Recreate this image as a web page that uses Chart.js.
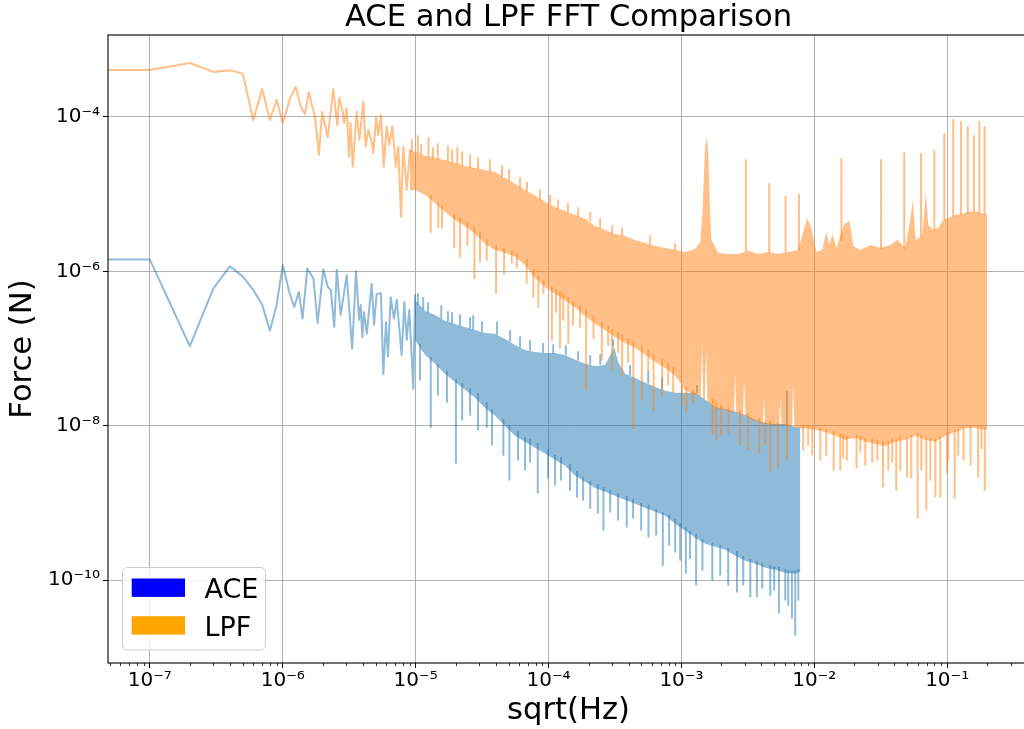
<!DOCTYPE html>
<html>
<head>
<meta charset="utf-8">
<title>ACE and LPF FFT Comparison</title>
<script src="https://cdn.jsdelivr.net/npm/chart.js"></script>
<style>
  html, body { margin: 0; padding: 0; overflow: hidden; background: #ffffff; }
  #wrap { position: relative; width: 1032px; height: 729px; }
  canvas { display: block; }
</style>
</head>
<body>
<div id="wrap"><canvas id="fft" width="1032" height="729"></canvas></div>
<script>
// ---------------------------------------------------------------------------
// Series and axes
// ---------------------------------------------------------------------------
const seriesNames = ['ACE', 'LPF'];

// decade exponents that carry a label on each axis
const xTickExponents = [-7, -6, -5, -4, -3, -2, -1];
const yTickExponents = [-10, -8, -6, -4];
// log minor ticks between decades on the frequency axis
const xMinorMultipliers = [2, 3, 4, 5, 6, 7, 8, 9];

// axis limits (frequency in sqrt(Hz), force in N)
const xRange = [4.84e-8, 0.413];
const yRange = [8.41e-12, 1.153e-3];

// ---------------------------------------------------------------------------
// ACE spectrum  [frequency, force]
// low-frequency bins, one vertex per bin (the 0 Hz bin has no place on a log
// axis, so its level is carried in from below the axis minimum)
// ---------------------------------------------------------------------------
const aceLow = [
  [1e-9, 1.42e-6], [1e-7, 1.42e-6], [2e-7, 1.07e-7], [3e-7, 5.97e-7], [4e-7, 1.16e-6],
  [5e-7, 8.6e-7], [6e-7, 5.7e-7], [7e-7, 3.7e-7], [8e-7, 1.7e-7], [9e-7, 3.7e-7],
  [1e-6, 1.21e-6], [1.12e-6, 5.4e-7], [1.22e-6, 3.45e-7], [1.32e-6, 5.4e-7], [1.41e-6, 2.44e-7],
  [1.53e-6, 1.09e-6], [1.70e-6, 8.1e-7], [1.83e-6, 2.14e-7], [2.02e-6, 1.06e-6], [2.18e-6, 6.3e-7],
  [2.30e-6, 5.7e-7], [2.44e-6, 1.9e-7], [2.55e-6, 1.05e-6], [2.73e-6, 2.72e-7], [3.03e-6, 8.98e-7],
  [3.33e-6, 1.0e-7], [3.56e-6, 1.0e-6], [3.75e-6, 2.35e-7], [3.86e-6, 3.67e-7], [3.97e-6, 1.41e-7],
  [4.08e-6, 2.97e-7], [4.29e-6, 1.56e-7], [4.67e-6, 6.9e-7], [4.86e-6, 2.02e-7], [5.09e-6, 5.1e-7],
  [5.48e-6, 5.2e-7], [5.71e-6, 4.64e-8], [5.98e-6, 2.2e-7], [6.19e-6, 7.9e-8], [6.49e-6, 4.6e-7],
  [6.87e-6, 2.44e-7], [7.21e-6, 4.26e-7], [7.85e-6, 8.26e-8], [8.22e-6, 4.0e-7], [8.57e-6, 1.29e-7],
  [8.96e-6, 3.16e-7], [9.61e-6, 3.0e-8], [9.90e-6, 4.94e-7]
];
// dense part: upper and lower extent of the bins
const aceBandTop = [
  [9.89e-6, 4.26e-7], [1.18e-5, 3.07e-7], [1.40e-5, 2.72e-7], [1.66e-5, 2.28e-7], [1.98e-5, 2.08e-7],
  [2.35e-5, 1.90e-7], [2.80e-5, 1.74e-7], [3.33e-5, 1.59e-7], [3.96e-5, 1.55e-7], [4.71e-5, 1.33e-7],
  [5.60e-5, 1.11e-7], [6.66e-5, 9.59e-8], [7.92e-5, 9.03e-8], [9.42e-5, 8.77e-8], [1.12e-4, 8.77e-8],
  [1.33e-4, 8.26e-8], [1.59e-4, 7.12e-8], [1.89e-4, 6.32e-8], [2.24e-4, 5.95e-8], [2.67e-4, 6.13e-8],
  [2.91e-4, 8.26e-8], [3.12e-4, 1.05e-7], [3.34e-4, 6.71e-8], [3.77e-4, 4.69e-8], [4.49e-4, 4.16e-8],
  [5.34e-4, 3.59e-8], [6.35e-4, 3.18e-8], [7.55e-4, 2.83e-8], [8.98e-4, 2.66e-8], [1.07e-3, 2.66e-8],
  [1.27e-3, 2.66e-8], [1.51e-3, 2.16e-8], [1.80e-3, 1.75e-8], [2.14e-3, 1.65e-8], [2.54e-3, 1.51e-8],
  [3.02e-3, 1.38e-8], [3.59e-3, 1.19e-8], [4.27e-3, 1.08e-8], [5.08e-3, 1.05e-8], [6.05e-3, 1.05e-8],
  [7.19e-3, 9.6e-9], [7.85e-3, 9.3e-9]
];
const aceBandBottom = [
  [9.89e-6, 1.29e-7], [1.18e-5, 8.26e-8], [1.40e-5, 6.32e-8], [1.66e-5, 4.69e-8], [1.98e-5, 3.69e-8],
  [2.35e-5, 2.91e-8], [2.80e-5, 2.30e-8], [3.33e-5, 1.70e-8], [3.96e-5, 1.34e-8], [4.71e-5, 9.9e-9],
  [5.60e-5, 7.38e-9], [6.66e-5, 6.17e-9], [7.92e-5, 5.16e-9], [9.42e-5, 4.32e-9], [1.12e-4, 3.61e-9],
  [1.33e-4, 3.02e-9], [1.59e-4, 2.24e-9], [1.89e-4, 1.87e-9], [2.24e-4, 1.56e-9], [2.67e-4, 1.39e-9],
  [3.17e-4, 1.23e-9], [3.77e-4, 1.09e-9], [4.49e-4, 9.7e-10], [5.34e-4, 8.6e-10], [6.35e-4, 7.64e-10],
  [7.55e-4, 6.78e-10], [8.98e-4, 5.35e-10], [1.07e-3, 4.34e-10], [1.27e-3, 3.52e-10], [1.51e-3, 2.95e-10],
  [1.80e-3, 2.69e-10], [2.14e-3, 2.46e-10], [2.54e-3, 2.06e-10], [3.02e-3, 1.78e-10], [3.59e-3, 1.62e-10],
  [4.27e-3, 1.44e-10], [5.08e-3, 1.36e-10], [6.05e-3, 1.24e-10], [7.19e-3, 1.21e-10], [7.85e-3, 1.28e-10]
];
// isolated bins that stand out of the dense part  [frequency, from, to]
const aceSpikes = [
  [1.04e-5, 3.78e-7, 5.09e-7], [1.14e-5, 3.26e-7, 4.52e-7], [1.24e-5, 2.98e-7, 3.89e-7],
  [1.56e-5, 2.49e-7, 3.56e-7], [1.75e-5, 2.28e-7, 2.98e-7], [1.88e-5, 2.14e-7, 2.89e-7],
  [2.16e-5, 2.02e-7, 2.72e-7], [2.57e-5, 1.85e-7, 2.49e-7], [2.71e-5, 1.79e-7, 2.64e-7],
  [3.16e-5, 1.69e-7, 2.21e-7], [4.10e-5, 1.55e-7, 2.21e-7], [5.14e-5, 1.25e-7, 1.69e-7],
  [6.11e-5, 1.05e-7, 1.41e-7], [7.26e-5, 9.59e-8, 1.25e-7], [9.1e-5, 9.03e-8, 1.15e-7],
  [1.085e-4, 8.77e-8, 1.11e-7], [1.35e-4, 8.5e-8, 1.08e-7], [1.67e-4, 7.12e-8, 9.03e-8],
  [2.06e-4, 6.32e-8, 8.0e-8], [2.45e-4, 6.32e-8, 8.26e-8], [3.06e-4, 1.08e-7, 1.29e-7],
  [4.11e-4, 4.55e-8, 5.95e-8], [5.63e-4, 3.59e-8, 4.98e-8], [7.16e-4, 3.0e-8, 4.16e-8],
  [1.31e-3, 2.74e-8, 3.28e-8], [6.23e-3, 1.05e-8, 2.74e-8],
  [1.08e-5, 1.11e-7, 3.92e-8], [1.30e-5, 7.56e-8, 9.6e-9], [1.47e-5, 6.13e-8, 2.51e-8],
  [1.72e-5, 4.98e-8, 2.03e-8], [2.01e-5, 3.92e-8, 3.3e-9], [2.24e-5, 3.48e-8, 1.19e-8],
  [2.57e-5, 2.91e-8, 1.38e-8], [2.95e-5, 2.59e-8, 8.82e-9], [3.43e-5, 1.97e-8, 9.6e-9],
  [3.76e-5, 1.60e-8, 5.64e-9], [4.57e-5, 1.19e-8, 4.19e-9], [5.08e-5, 9.9e-9, 1.99e-9],
  [5.9e-5, 8.3e-9, 3.61e-9], [6.66e-5, 6.95e-9, 2.68e-9], [7.26e-5, 6.55e-9, 3.4e-9],
  [8.3e-5, 5.81e-9, 1.35e-9], [9.92e-5, 4.86e-9, 2.12e-9], [1.12e-4, 4.07e-9, 1.71e-9],
  [1.24e-4, 3.83e-9, 1.99e-9], [1.45e-4, 3.11e-9, 1.47e-9], [1.64e-4, 2.52e-9, 1.20e-9],
  [1.82e-4, 2.12e-9, 1.09e-9], [2.06e-4, 1.87e-9, 8.6e-10], [2.35e-4, 1.71e-9, 7.42e-10],
  [2.59e-4, 1.56e-9, 4.47e-10], [2.91e-4, 1.43e-9, 7.64e-10], [3.34e-4, 1.31e-9, 6.02e-10],
  [3.88e-4, 1.20e-9, 4.89e-10], [4.33e-4, 1.09e-9, 6.38e-10], [4.98e-4, 9.7e-10, 4.47e-10],
  [5.65e-4, 9.14e-10, 3.63e-10], [6.46e-4, 8.11e-10, 3.85e-10], [7.25e-4, 7.42e-10, 1.57e-10],
  [8.09e-4, 6.78e-10, 2.86e-10], [8.98e-4, 6.02e-10, 2.32e-10], [9.79e-4, 5.35e-10, 1.83e-10],
  [1.08e-3, 4.75e-10, 1.24e-10], [1.16e-3, 4.22e-10, 1.91e-10], [1.29e-3, 3.85e-10, 8.67e-11],
  [1.44e-3, 3.32e-10, 1.36e-10], [1.71e-3, 2.95e-10, 1.01e-10], [1.96e-3, 2.78e-10, 1.17e-10],
  [2.25e-3, 2.54e-10, 8.67e-11], [2.62e-3, 2.32e-10, 7.04e-11], [2.92e-3, 2.0e-10, 8.67e-11],
  [3.30e-3, 1.83e-10, 6.06e-11], [3.70e-3, 1.72e-10, 6.06e-11], [4.06e-3, 1.62e-10, 7.96e-11],
  [4.66e-3, 1.52e-10, 6.43e-11], [4.99e-3, 1.48e-10, 7.47e-11], [5.42e-3, 1.44e-10, 3.76e-11],
  [6.05e-3, 1.36e-10, 5.54e-11], [6.37e-3, 1.32e-10, 4.77e-11], [6.79e-3, 1.32e-10, 3.24e-11],
  [7.19e-3, 1.32e-10, 1.95e-11], [7.58e-3, 1.36e-10, 5.54e-11]
];

// ---------------------------------------------------------------------------
// LPF spectrum  [frequency, force]
// ---------------------------------------------------------------------------
const lpfLow = [
  [1e-9, 4.06e-4], [1e-7, 4.06e-4], [2e-7, 5.0e-4], [3e-7, 3.83e-4], [4e-7, 4.03e-4],
  [5e-7, 3.64e-4], [6e-7, 9.1e-5], [7e-7, 2.31e-4], [8e-7, 9.1e-5], [9e-7, 1.67e-4],
  [1e-6, 8.3e-5], [1.13e-6, 1.69e-4], [1.25e-6, 2.47e-4], [1.37e-6, 1.34e-4], [1.47e-6, 1.09e-4],
  [1.57e-6, 2.09e-4], [1.75e-6, 9.9e-5], [1.87e-6, 3.22e-5], [1.98e-6, 1.17e-4], [2.18e-6, 5.46e-5],
  [2.40e-6, 2.28e-4], [2.57e-6, 7.87e-5], [2.66e-6, 1.75e-4], [2.81e-6, 1.23e-4], [2.90e-6, 8.3e-5],
  [3.03e-6, 1.30e-4], [3.15e-6, 3.07e-5], [3.24e-6, 8.3e-5], [3.36e-6, 2.27e-5], [3.60e-6, 1.17e-4],
  [3.77e-6, 5.04e-5], [4.04e-6, 1.58e-4], [4.21e-6, 4.13e-5], [4.41e-6, 6.79e-5], [4.67e-6, 4.79e-5],
  [4.80e-6, 3.38e-5], [5.04e-6, 9.9e-5], [5.24e-6, 5.85e-5], [5.48e-6, 1.06e-4], [5.75e-6, 2.27e-5],
  [6.05e-6, 7.5e-5], [6.34e-6, 4.34e-5], [6.67e-6, 7.5e-5], [7.11e-6, 2.27e-5], [7.41e-6, 4.13e-5],
  [7.76e-6, 5.1e-6], [8.07e-6, 4.13e-5], [8.57e-6, 1.13e-5], [9.07e-6, 3.74e-5]
];
const lpfBandTop = [
  [9.07e-6, 3.74e-5], [9.89e-6, 3.52e-5], [1.18e-5, 3.12e-5], [1.40e-5, 2.94e-5], [1.66e-5, 2.77e-5],
  [1.98e-5, 2.53e-5], [2.35e-5, 2.32e-5], [2.80e-5, 2.18e-5], [3.33e-5, 2.06e-5], [3.96e-5, 1.94e-5],
  [4.71e-5, 1.62e-5], [5.60e-5, 1.36e-5], [6.66e-5, 1.13e-5], [7.92e-5, 9.5e-6], [9.42e-5, 7.9e-6],
  [1.12e-4, 6.8e-6], [1.33e-4, 6.05e-6], [1.59e-4, 5.38e-6], [1.89e-4, 4.77e-6], [2.24e-4, 3.87e-6],
  [2.67e-4, 3.44e-6], [3.17e-4, 3.05e-6], [3.77e-4, 2.87e-6], [4.49e-4, 2.55e-6], [5.34e-4, 2.33e-6],
  [6.35e-4, 2.13e-6], [7.55e-4, 2.00e-6], [8.98e-4, 1.89e-6], [1.07e-3, 1.78e-6], [1.27e-3, 1.95e-6],
  [1.39e-3, 2.41e-6], [1.44e-3, 5.72e-6], [1.48e-3, 1.88e-5], [1.51e-3, 4.08e-5], [1.55e-3, 5.35e-5],
  [1.59e-3, 3.74e-5], [1.63e-3, 8.41e-6], [1.68e-3, 2.55e-6], [1.90e-3, 1.73e-6], [2.25e-3, 1.68e-6],
  [2.67e-3, 1.68e-6], [3.18e-3, 1.84e-6], [3.78e-3, 1.68e-6], [4.50e-3, 1.78e-6], [5.36e-3, 1.68e-6],
  [6.37e-3, 1.78e-6], [7.58e-3, 1.89e-6], [8.26e-3, 3.23e-6], [8.84e-3, 4.91e-6], [9.48e-3, 3.66e-6],
  [1.04e-2, 1.78e-6], [1.15e-2, 1.89e-6], [1.23e-2, 3.24e-6], [1.30e-2, 2.20e-6], [1.37e-2, 3.05e-6],
  [1.47e-2, 2.0e-6], [1.68e-2, 4.11e-6], [1.84e-2, 4.5e-6], [1.97e-2, 2.13e-6], [2.22e-2, 1.89e-6],
  [2.64e-2, 2.20e-6], [3.14e-2, 2.00e-6], [3.73e-2, 2.20e-6], [4.21e-2, 2.55e-6], [4.84e-2, 2.00e-6],
  [5.28e-2, 4.63e-6], [5.51e-2, 8.41e-6], [5.80e-2, 2.55e-6], [6.50e-2, 2.96e-6], [6.91e-2, 1.06e-5],
  [7.22e-2, 3.99e-6], [7.87e-2, 3.44e-6], [8.59e-2, 3.66e-6], [9.36e-2, 4.63e-6], [1.02e-1, 4.91e-6],
  [1.15e-1, 5.38e-6], [1.30e-1, 5.55e-6], [1.50e-1, 5.90e-6], [1.72e-1, 5.90e-6], [2.0e-1, 5.38e-6]
];
const lpfBandBottom = [
  [9.07e-6, 1.13e-5], [9.89e-6, 1.13e-5], [1.18e-5, 9.77e-6], [1.40e-5, 7.7e-6], [1.66e-5, 5.9e-6],
  [1.98e-5, 4.63e-6], [2.35e-5, 3.87e-6], [2.80e-5, 3.05e-6], [3.33e-5, 2.26e-6], [3.96e-5, 1.89e-6],
  [4.71e-5, 1.73e-6], [5.60e-5, 1.54e-6], [6.66e-5, 1.21e-6], [7.92e-5, 8.2e-7], [9.42e-5, 6.28e-7],
  [1.12e-4, 5.09e-7], [1.33e-4, 4.26e-7], [1.59e-4, 3.38e-7], [1.89e-4, 2.64e-7], [2.24e-4, 2.08e-7],
  [2.67e-4, 1.74e-7], [3.17e-4, 1.41e-7], [3.77e-4, 1.18e-7], [4.49e-4, 1.02e-7], [5.34e-4, 8.26e-8],
  [6.35e-4, 6.71e-8], [7.55e-4, 5.6e-8], [8.98e-4, 4.42e-8], [1.07e-3, 2.91e-8], [1.20e-3, 2.59e-8],
  [1.40e-3, 2.37e-8], [1.43e-3, 1.29e-7], [1.46e-3, 2.23e-8], [1.50e-3, 2.16e-8], [1.54e-3, 1.11e-7],
  [1.57e-3, 2.03e-8], [1.80e-3, 1.70e-8], [2.14e-3, 1.60e-8], [2.49e-3, 1.46e-8], [2.54e-3, 4.98e-8],
  [2.59e-3, 1.46e-8], [2.91e-3, 1.34e-8], [2.97e-3, 4.16e-8], [3.03e-3, 1.34e-8], [3.59e-3, 1.15e-8],
  [4.11e-3, 1.05e-8], [4.20e-3, 2.30e-8], [4.28e-3, 1.05e-8], [5.08e-3, 1.02e-8], [5.43e-3, 1.02e-8],
  [5.54e-3, 2.16e-8], [5.66e-3, 1.02e-8], [6.59e-3, 9.9e-9], [6.80e-3, 9.6e-9], [6.94e-3, 3.92e-8],
  [7.09e-3, 9.6e-9], [7.99e-3, 9.1e-9], [8.55e-3, 9.3e-9], [1.02e-2, 8.82e-9], [1.21e-2, 8.3e-9],
  [1.44e-2, 7.38e-9], [1.71e-2, 6.55e-9], [2.04e-2, 6.95e-9], [2.42e-2, 6.17e-9], [2.88e-2, 5.81e-9],
  [3.43e-2, 5.47e-9], [4.07e-2, 6.17e-9], [4.84e-2, 6.55e-9], [5.76e-2, 7.38e-9], [6.85e-2, 6.55e-9],
  [8.15e-2, 6.17e-9], [9.69e-2, 7.38e-9], [1.15e-1, 8.3e-9], [1.37e-1, 9.33e-9], [1.63e-1, 9.33e-9],
  [2.0e-1, 8.82e-9]
];
const lpfSpikes = [
  // lines rising above the dense part
  [9.38e-6, 3.63e-5, 5.04e-5], [1.04e-5, 3.42e-5, 5.67e-5], [1.10e-5, 3.32e-5, 4.34e-5],
  [1.25e-5, 3.03e-5, 5.35e-5], [1.35e-5, 2.94e-5, 3.97e-5], [1.47e-5, 2.86e-5, 4.47e-5],
  [1.75e-5, 2.70e-5, 4.13e-5], [1.88e-5, 2.61e-5, 3.74e-5], [2.06e-5, 2.46e-5, 3.97e-5],
  [2.24e-5, 2.39e-5, 3.52e-5], [2.57e-5, 2.25e-5, 3.22e-5], [2.95e-5, 2.18e-5, 2.94e-5],
  [3.63e-5, 2.0e-5, 2.77e-5], [4.47e-5, 1.72e-5, 2.32e-5], [5.05e-5, 1.49e-5, 2.06e-5],
  [6.11e-5, 1.24e-5, 1.62e-5], [6.89e-5, 1.10e-5, 1.40e-5], [8.64e-5, 8.7e-6, 1.13e-5],
  [1.03e-4, 7.45e-6, 9.5e-6], [1.18e-4, 6.6e-6, 8.41e-6], [1.40e-4, 5.9e-6, 7.5e-6],
  [1.67e-4, 5.2e-6, 6.6e-6], [2.06e-4, 4.5e-6, 5.72e-6], [2.45e-4, 3.66e-6, 4.77e-6],
  [3.01e-4, 3.15e-6, 3.87e-6], [3.58e-4, 2.96e-6, 3.55e-6], [5.82e-4, 2.26e-6, 2.87e-6],
  [8.98e-4, 1.89e-6, 2.26e-6],
  [3.06e-3, 1.84e-6, 2.77e-5], [4.58e-3, 1.78e-6, 1.36e-5], [6.08e-3, 1.78e-6, 9.4e-6],
  [7.67e-3, 1.89e-6, 1.0e-5], [1.60e-2, 2.55e-6, 2.86e-5], [3.18e-2, 2.0e-6, 2.77e-5],
  [4.76e-2, 2.0e-6, 3.43e-5], [6.36e-2, 2.87e-6, 3.32e-5], [8.01e-2, 3.44e-6, 3.63e-5],
  [9.52e-2, 4.63e-6, 6.0e-5], [1.11e-1, 5.2e-6, 9.14e-5], [1.27e-1, 5.55e-6, 8.6e-5],
  [1.43e-1, 5.7e-6, 7.42e-5], [1.59e-1, 5.9e-6, 5.67e-5], [1.75e-1, 5.9e-6, 8.6e-5],
  [1.91e-1, 5.5e-6, 7.42e-5],
  // lines dropping below it
  [1.30e-5, 9.48e-6, 3.24e-6], [1.48e-5, 7.46e-6, 3.76e-6], [1.58e-5, 7.03e-6, 3.65e-6],
  [1.95e-5, 5.38e-6, 2.07e-6], [2.16e-5, 4.91e-6, 1.54e-6], [2.45e-5, 4.36e-6, 2.20e-6],
  [2.77e-5, 3.65e-6, 8.21e-7], [3.05e-5, 3.15e-6, 1.33e-6], [3.43e-5, 2.55e-6, 1.41e-6],
  [4.03e-5, 2.14e-6, 5.25e-7], [4.63e-5, 1.95e-6, 9.2e-7], [5.29e-5, 1.78e-6, 1.29e-6],
  [5.77e-5, 1.68e-6, 1.11e-6], [6.86e-5, 1.41e-6, 7.08e-7], [7.69e-5, 1.04e-6, 4.65e-7],
  [8.39e-5, 8.72e-7, 3.46e-7], [9.15e-5, 7.51e-7, 5.25e-7], [1.06e-4, 6.1e-7, 1.29e-7],
  [1.14e-4, 5.74e-7, 2.98e-7], [1.22e-4, 5.41e-7, 1.02e-7], [1.29e-4, 5.09e-7, 2.35e-7],
  [1.41e-4, 4.52e-7, 1.18e-7], [1.53e-4, 4.01e-7, 2.02e-7], [1.73e-4, 3.56e-7, 1.90e-7],
  [1.92e-4, 3.16e-7, 2.91e-8], [2.18e-4, 2.64e-7, 1.37e-7], [2.52e-4, 2.14e-7, 7.12e-8],
  [2.81e-4, 1.96e-7, 1.11e-7], [3.01e-4, 1.74e-7, 5.28e-8], [3.34e-4, 1.59e-7, 9.03e-8],
  [3.58e-4, 1.46e-7, 4.55e-8], [3.97e-4, 1.33e-7, 6.71e-8], [4.35e-4, 1.22e-7, 9.33e-9],
  [5.04e-4, 1.05e-7, 2.16e-8], [5.63e-4, 9.59e-8, 4.98e-8], [6.17e-4, 8.26e-8, 1.60e-8],
  [7.16e-4, 7.12e-8, 2.51e-8], [7.95e-4, 6.32e-8, 3.38e-8], [8.67e-4, 5.6e-8, 2.74e-8],
  [1.01e-3, 3.28e-8, 1.86e-8], [1.09e-3, 3.09e-8, 1.51e-8], [1.22e-3, 2.83e-8, 2.03e-8],
  [1.72e-3, 2.16e-8, 8.1e-9], [1.83e-3, 1.92e-8, 6.55e-9], [1.99e-3, 1.81e-8, 7.6e-9],
  [2.26e-3, 1.70e-8, 8.1e-9], [2.77e-3, 1.51e-8, 5.64e-9], [3.18e-3, 1.42e-8, 4.86e-9],
  [3.85e-3, 1.19e-8, 4.45e-9], [4.27e-3, 1.12e-8, 5.64e-9], [4.66e-3, 1.12e-8, 2.6e-9],
  [5.32e-3, 1.08e-8, 2.85e-9], [6.23e-3, 1.05e-8, 3.72e-9], [8.26e-3, 9.9e-9, 4.86e-9],
  [9.0e-3, 9.9e-9, 5.64e-9], [9.66e-3, 9.6e-9, 4.19e-9], [1.11e-2, 9.1e-9, 3.61e-9],
  [1.23e-2, 8.82e-9, 4.19e-9], [1.40e-2, 8.3e-9, 2.68e-9], [1.57e-2, 7.6e-9, 2.68e-9],
  [1.65e-2, 7.38e-9, 3.83e-9], [1.76e-2, 7.16e-9, 3.61e-9], [2.08e-2, 7.38e-9, 2.85e-9],
  [2.22e-2, 7.16e-9, 4.58e-9], [2.42e-2, 6.75e-9, 3.11e-9], [2.73e-2, 6.55e-9, 3.4e-9],
  [2.98e-2, 6.36e-9, 3.61e-9], [3.29e-2, 6.17e-9, 1.63e-9], [3.61e-2, 6.17e-9, 2.68e-9],
  [3.86e-2, 6.55e-9, 3.4e-9], [4.14e-2, 6.55e-9, 1.47e-9], [4.44e-2, 6.95e-9, 2.68e-9],
  [4.98e-2, 6.95e-9, 2.18e-9], [5.37e-2, 7.38e-9, 2.12e-9], [6.0e-2, 7.83e-9, 6.4e-10],
  [6.39e-2, 7.38e-9, 2.68e-9], [6.97e-2, 6.95e-9, 8.11e-10], [7.47e-2, 6.75e-9, 1.99e-9],
  [8.15e-2, 6.55e-9, 1.2e-9], [8.89e-2, 6.95e-9, 1.2e-9], [9.98e-2, 7.83e-9, 2.45e-9],
  [1.02e-1, 8.1e-9, 3.61e-9], [1.14e-1, 8.56e-9, 1.16e-9], [1.21e-1, 8.82e-9, 4.19e-9],
  [1.33e-1, 9.33e-9, 3.61e-9], [1.50e-1, 9.9e-9, 3.11e-9], [1.71e-1, 9.9e-9, 2.18e-9],
  [1.81e-1, 9.9e-9, 5.1e-9], [1.92e-1, 9.33e-9, 1.47e-9]
];

// ---------------------------------------------------------------------------
// Styling
// ---------------------------------------------------------------------------
const traceColors = ['rgba(31,119,180,0.5)', 'rgba(255,127,14,0.5)'];
const legendSwatches = ['#0000ff', '#ffa500'];
const FONT = "'DejaVu Sans', 'Liberation Sans', sans-serif";

Chart.defaults.font.family = FONT;
Chart.defaults.color = '#000000';

const SUP = { '-': '\u207B', '0': '\u2070', '1': '\u00B9', '2': '\u00B2', '3': '\u00B3',
              '4': '\u2074', '5': '\u2075', '6': '\u2076', '7': '\u2077', '8': '\u2078', '9': '\u2079' };
const powerLabel = e => '10' + String(e).split('').map(c => SUP[c]).join('');

const toPoints = pairs => pairs.map(([x, y]) => ({ x, y }));
const toSpikes = triples => triples.flatMap(([f, a, b]) => [{ x: f, y: a }, { x: f, y: b }, { x: f, y: null }]);

function traceSet(label, data, color, order) {
  return { label, data, borderColor: color, borderWidth: 2, pointRadius: 0, fill: false,
           tension: 0, order, borderJoinStyle: 'round', borderCapStyle: 'round' };
}
function bandSet(label, top, color, order) {
  return { label, data: top, borderColor: 'transparent', borderWidth: 0, pointRadius: 0,
           backgroundColor: color, fill: '+1', tension: 0, order };
}
function floorSet(label, bottom, order) {
  return { label, data: bottom, borderColor: 'transparent', borderWidth: 0, pointRadius: 0,
           fill: false, tension: 0, order };
}

// lower order is painted last, so LPF sits over ACE
const datasets = [
  traceSet(seriesNames[1], toPoints(lpfLow), traceColors[1], 1),
  bandSet(seriesNames[1] + ' dense', toPoints(lpfBandTop), traceColors[1], 1),
  floorSet(seriesNames[1] + ' dense floor', toPoints(lpfBandBottom), 1),
  traceSet(seriesNames[1] + ' lines', toSpikes(lpfSpikes), traceColors[1], 1),
  traceSet(seriesNames[0], toPoints(aceLow), traceColors[0], 2),
  bandSet(seriesNames[0] + ' dense', toPoints(aceBandTop), traceColors[0], 2),
  floorSet(seriesNames[0] + ' dense floor', toPoints(aceBandBottom), 2),
  traceSet(seriesNames[0] + ' lines', toSpikes(aceSpikes), traceColors[0], 2)
];

// frame, minor ticks and the corner legend
const axesFrame = {
  id: 'axesFrame',
  afterDatasetsDraw(chart) {
    const { ctx, chartArea: a, scales: { x } } = chart;
    ctx.save();
    ctx.strokeStyle = '#000000';
    ctx.lineWidth = 0.8;
    ctx.beginPath();
    const lo = Math.floor(Math.log10(x.min)), hi = Math.ceil(Math.log10(x.max));
    for (let n = lo; n <= hi; n++) {
      for (const m of xMinorMultipliers) {
        const v = m * Math.pow(10, n);
        if (v < x.min || v > x.max) continue;
        const px = Math.round(x.getPixelForValue(v)) + 0.5;
        ctx.moveTo(px, a.bottom);
        ctx.lineTo(px, a.bottom + 3);
      }
    }
    ctx.stroke();
    ctx.lineWidth = 1.1;
    ctx.strokeRect(a.left, a.top, a.right - a.left, a.bottom - a.top);
    ctx.restore();
  },
  afterDraw(chart) {
    const { ctx, chartArea: a } = chart;
    const left = a.left + 14.5, top = a.bottom - 95.5, w = 143, h = 82.5, r = 5;
    ctx.save();
    ctx.beginPath();
    ctx.moveTo(left + r, top);
    ctx.arcTo(left + w, top, left + w, top + h, r);
    ctx.arcTo(left + w, top + h, left, top + h, r);
    ctx.arcTo(left, top + h, left, top, r);
    ctx.arcTo(left, top, left + w, top, r);
    ctx.closePath();
    ctx.fillStyle = 'rgba(255,255,255,0.8)';
    ctx.fill();
    ctx.strokeStyle = '#cccccc';
    ctx.lineWidth = 1;
    ctx.stroke();
    ctx.font = '27px ' + FONT;
    ctx.textBaseline = 'alphabetic';
    ctx.textAlign = 'left';
    seriesNames.forEach((name, i) => {
      const rowTop = top + 11 + i * 37.7;
      ctx.fillStyle = legendSwatches[i];
      ctx.fillRect(a.left + 23.7, rowTop, 53.3, 18.4);
      ctx.fillStyle = '#000000';
      ctx.fillText(name, a.left + 96.5, rowTop + 19.5);
    });
    ctx.restore();
  }
};

new Chart(document.getElementById('fft'), {
  type: 'line',
  data: { datasets },
  options: {
    responsive: false,
    animation: false,
    devicePixelRatio: 1,
    events: [],
    layout: { padding: { left: 0, right: 3, top: 0, bottom: 0 } },
    plugins: {
      legend: { display: false },
      tooltip: { enabled: false },
      title: {
        display: true,
        text: 'ACE and LPF FFT Comparison',
        fullSize: false,
        color: '#000000',
        font: { size: 30.6, weight: 'normal', lineHeight: 1 },
        padding: { top: 3, bottom: 1.4 }
      }
    },
    scales: {
      x: {
        type: 'logarithmic',
        position: 'bottom',
        min: xRange[0],
        max: xRange[1],
        afterBuildTicks: s => { s.ticks = xTickExponents.map(e => ({ value: Math.pow(10, e) })); },
        afterFit: s => { s.height = 66; },
        ticks: {
          callback: (v, i) => powerLabel(xTickExponents[i]),
          font: { size: 20 }, color: '#000000', padding: 1,
          maxRotation: 0, minRotation: 0, autoSkip: false
        },
        grid: { color: '#b0b0b0', lineWidth: 1, tickColor: '#000000', tickLength: 5, tickWidth: 1 },
        border: { display: false },
        title: { display: true, text: 'sqrt(Hz)', color: '#000000',
                 font: { size: 30.6, weight: 'normal' }, padding: { top: 0, bottom: 0 } }
      },
      y: {
        type: 'logarithmic',
        position: 'left',
        min: yRange[0],
        max: yRange[1],
        afterBuildTicks: s => { s.ticks = yTickExponents.map(e => ({ value: Math.pow(10, e) })); },
        afterFit: s => { s.width = 108; },
        ticks: {
          callback: (v, i) => powerLabel(yTickExponents[i]),
          font: { size: 20 }, color: '#000000', padding: 3, autoSkip: false
        },
        grid: { color: '#b0b0b0', lineWidth: 1, tickColor: '#000000', tickLength: 5, tickWidth: 1 },
        border: { display: false },
        title: { display: true, text: 'Force (N)', color: '#000000',
                 font: { size: 30.6, weight: 'normal' }, padding: { top: 5, bottom: 0 } }
      }
    }
  },
  plugins: [axesFrame]
});
</script>
</body>
</html>
